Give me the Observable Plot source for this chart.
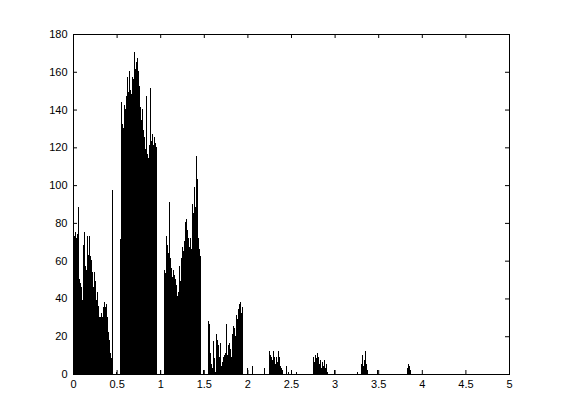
<!DOCTYPE html>
<html>
<head>
<meta charset="utf-8">
<script src="https://cdn.jsdelivr.net/npm/d3@7"></script>
<script src="https://cdn.jsdelivr.net/npm/@observablehq/plot@0.6"></script>
<style>
  html, body { margin: 0; padding: 0; background: #fff; }
</style>
</head>
<body>
<div id="chart"></div>
<script>
// Histogram bins: width 5/436 along x (0..5)
const binWidth = 5 / 436;

// Clusters of consecutive bin counts: [first bin index, counts...]
const clusterAStart = 1;
const clusterA = [73,75,72,74,88,50,48,46,39,68,75,57,55,73,63,73,62,60,54,46,54,49,39,43,36,30,30,32,30,35,38,35,37,30,22,18,11,8,97];
const clusterBStart = 47;
const clusterB = [71,144,132,130,142,140,147,157,149,160,150,148,157,156,170,161,165,167,160,152,141,134,140,129,125,119,147,116,114,121,151,123,127,121,125,122,120];
const clusterCStart = 91;
const clusterC = [55,53,73,68,64,91,61,56,51,55,52,50,47,41,43,57,49,61,67,65,70,80,82,76,72,67,72,66,90,85,99,88,115,103,72,66,62];
const clusterDStart = 135;
const clusterD = [28,26,11,5,3,17,8,1,21,18,15,9,16,4,6,9,10,11,26,10,15,16,13,9,21,25,24,20,31,29,34,37,38,32,35];
const clusterEStart = 196;
const clusterE = [12,10,9,7,12,9,5,9,6,12,9,4,3,2];
const clusterFStart = 240;
const clusterF = [9,6,10,8,11,9,5,7,3,6,4,7,3,5,1];
const clusterGStart = 288;
const clusterG = [5,10,4,7,12,5,2];
const clusterHStart = 334;
const clusterH = [3,5,4,2];

// Isolated single bins
const isolatedBins   = [43, 87, 130, 174, 179, 191, 213, 215, 223, 261, 284, 304];
const isolatedCounts = [1,  2,  2,   3,   4,   3,   4,   1,   1,   2,   1,   2];

// Axis ticks
const xTicks = [0, 0.5, 1, 1.5, 2, 2.5, 3, 3.5, 4, 4.5, 5];
const yTicks = [0, 20, 40, 60, 80, 100, 120, 140, 160, 180];

// Build bin table
const clusters = [
  [clusterAStart, clusterA], [clusterBStart, clusterB], [clusterCStart, clusterC],
  [clusterDStart, clusterD], [clusterEStart, clusterE], [clusterFStart, clusterF],
  [clusterGStart, clusterG], [clusterHStart, clusterH]
];
const bins = [];
for (const [start, counts] of clusters) {
  counts.forEach((c, i) => bins.push({k: start + i, count: c}));
}
isolatedBins.forEach((k, i) => bins.push({k, count: isolatedCounts[i]}));
const table = bins.filter(d => d.count > 0).map(d => ({
  x1: d.k * binWidth, x2: (d.k + 1) * binWidth, count: d.count
}));

const chart = Plot.plot({
  width: 561,
  height: 420,
  marginLeft: 73,
  marginRight: 52,
  marginTop: 34,
  marginBottom: 46,
  style: {fontFamily: "'Liberation Sans', Arial, Helvetica, sans-serif", fontSize: "11px", background: "#fff", color: "#000"},
  x: {domain: [0, 5], label: null},
  y: {domain: [0, 180], label: null},
  marks: [
    Plot.rect(table, {x1: "x1", x2: "x2", y1: 0, y2: "count", fill: "#000", inset: 0, dx: -0.5, dy: -0.5, shapeRendering: "crispEdges"}),
    Plot.frame({stroke: "#000"}),
    Plot.tickX(xTicks, {x: d => d, stroke: "#000", insetTop: 336}),
    Plot.tickX(xTicks, {x: d => d, stroke: "#000", insetBottom: 336}),
    Plot.tickY(yTicks, {y: d => d, stroke: "#000", insetRight: 432}),
    Plot.tickY(yTicks, {y: d => d, stroke: "#000", insetLeft: 432}),
    Plot.axisX(xTicks, {tickSize: 0, tickPadding: 6, label: null, tickFormat: d => String(d)}),
    Plot.axisY(yTicks, {tickSize: 0, tickPadding: 6, label: null, tickFormat: d => String(d)})
  ]
});
document.getElementById("chart").appendChild(chart);
</script>
</body>
</html>
